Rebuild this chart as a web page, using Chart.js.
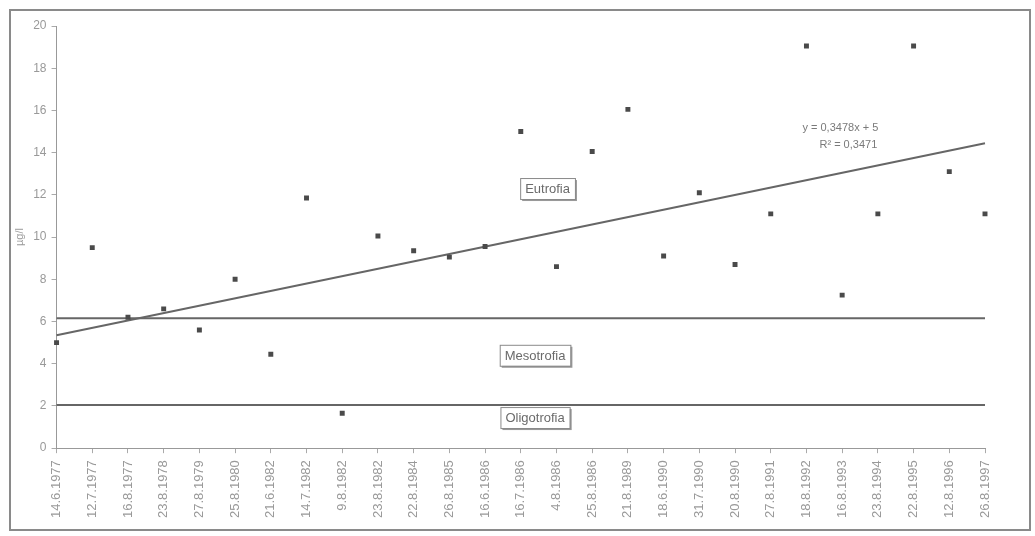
<!DOCTYPE html>
<html>
<head>
<meta charset="utf-8">
<script src="https://cdn.jsdelivr.net/npm/chart.js@4.4.1/dist/chart.umd.min.js"></script>
<style>
  html, body { margin: 0; padding: 0; background: #fff; }
  #wrap { position: relative; width: 1035px; height: 536px; }
  #frame {
    position: absolute; left: 9px; top: 9px; width: 1022px; height: 522px;
    border: 2px solid #8a8a8a; box-sizing: border-box; pointer-events: none;
  }
  canvas { position: absolute; left: 0; top: 0; }
</style>
</head>
<body>
<div id="wrap">
  <canvas id="chart" width="1035" height="536"></canvas>
  <div id="frame"></div>
</div>
<script>
// ── Data ──────────────────────────────────────────────────────────────────
const dates = [
  '14.6.1977', '12.7.1977', '16.8.1977', '23.8.1978', '27.8.1979', '25.8.1980',
  '21.6.1982', '14.7.1982', '9.8.1982', '23.8.1982', '22.8.1984', '26.8.1985',
  '16.6.1986', '16.7.1986', '4.8.1986', '25.8.1986', '21.8.1989', '18.6.1990',
  '31.7.1990', '20.8.1990', '27.8.1991', '18.8.1992', '16.8.1993', '23.8.1994',
  '22.8.1995', '12.8.1996', '26.8.1997'
];

const values = [
  5.0, 9.5, 6.2, 6.6, 5.6, 8.0,
  4.45, 11.85, 1.65, 10.05, 9.35, 9.05,
  9.55, 15.0, 8.6, 14.05, 16.05, 9.1,
  12.1, 8.7, 11.1, 19.05, 7.25, 11.1,
  19.05, 13.1, 11.1
];

// trend line endpoints (first and last date)
const trendEnds = [5.35, 14.45];

// class borders (µg/l)
const mesoLimit  = [6.15, 6.15];
const oligoLimit = [2.05, 2.05];

const yTicks = [0, 2, 4, 6, 8, 10, 12, 14, 16, 18, 20];

// ── helpers ───────────────────────────────────────────────────────────────
function endsOnly(pair) {
  return dates.map((d, i) => i === 0 ? pair[0] : (i === dates.length - 1 ? pair[1] : null));
}

const ink   = '#4a4a4a';
const line  = '#666666';
const muted = '#999999';
const font  = "'Liberation Sans', Arial, sans-serif";

// text boxes and equation, placed in data coordinates
const boxLabels = [
  { text: 'Eutrofia',    x: 13.75, y: 12.3 },
  { text: 'Mesotrofia',  x: 13.4,  y: 4.4  },
  { text: 'Oligotrofia', x: 13.4,  y: 1.45 }
];

const labelPlugin = {
  id: 'zoneLabels',
  afterDatasetsDraw(chart) {
    const { ctx, scales: { x, y } } = chart;
    ctx.save();
    ctx.font = '13px ' + font;
    ctx.textAlign = 'center';
    ctx.textBaseline = 'middle';
    boxLabels.forEach(b => {
      const px = x.getPixelForValue(b.x);
      const py = y.getPixelForValue(b.y);
      const w = ctx.measureText(b.text).width + 10;
      const h = 21;
      // shadow
      ctx.fillStyle = '#9a9a9a';
      ctx.fillRect(px - w / 2 + 2, py - h / 2 + 2, w, h);
      ctx.fillStyle = '#fff';
      ctx.fillRect(px - w / 2, py - h / 2, w, h);
      ctx.strokeStyle = '#8a8a8a';
      ctx.lineWidth = 1;
      ctx.strokeRect(px - w / 2 + 0.5, py - h / 2 + 0.5, w, h);
      ctx.fillStyle = '#6a6a6a';
      ctx.fillText(b.text, px, py + 1);
    });

    // regression equation
    ctx.font = '11px ' + font;
    ctx.fillStyle = '#7a7a7a';
    const ex = x.getPixelForValue(21.95);
    ctx.fillText('y = 0,3478x + 5', ex, y.getPixelForValue(15.15));
    ctx.fillText('R² = 0,3471', ex + 8, y.getPixelForValue(14.35));
    ctx.restore();
  }
};

Chart.defaults.font.family = font;
Chart.defaults.color = muted;

new Chart(document.getElementById('chart'), {
  type: 'line',
  data: {
    labels: dates,
    datasets: [
      {
        label: 'Chl a',
        data: values,
        showLine: false,
        pointStyle: 'rect',
        pointRadius: 3.5,
        backgroundColor: ink,
        borderColor: ink,
        borderWidth: 0
      },
      {
        label: 'trend',
        data: endsOnly(trendEnds),
        spanGaps: true,
        borderColor: line,
        borderWidth: 2,
        pointRadius: 0
      },
      {
        label: 'meso',
        data: endsOnly(mesoLimit),
        spanGaps: true,
        borderColor: line,
        borderWidth: 2,
        pointRadius: 0
      },
      {
        label: 'oligo',
        data: endsOnly(oligoLimit),
        spanGaps: true,
        borderColor: line,
        borderWidth: 2,
        pointRadius: 0
      }
    ]
  },
  options: {
    responsive: false,
    animation: false,
    layout: { padding: { left: 11, right: 50, top: 26, bottom: 11 } },
    plugins: {
      legend: { display: false },
      tooltip: { enabled: false }
    },
    scales: {
      x: {
        offset: false,
        grid: { display: true, drawOnChartArea: false, tickLength: 5, color: '#aaa' },
        border: { color: '#999', width: 1 },
        ticks: {
          autoSkip: false,
          minRotation: 90,
          maxRotation: 90,
          font: { size: 13 },
          color: muted,
          padding: 7
        }
      },
      y: {
        min: 0,
        max: 20,
        afterBuildTicks: axis => { axis.ticks = yTicks.map(v => ({ value: v })); },
        grid: { display: true, drawOnChartArea: false, tickLength: 5, color: '#aaa' },
        border: { color: '#999', width: 1 },
        ticks: { font: { size: 12 }, color: muted, padding: 5 },
        title: {
          display: true,
          text: 'µg/l',
          font: { size: 11 },
          color: muted,
          padding: 2
        }
      }
    }
  },
  plugins: [labelPlugin]
});
</script>
</body>
</html>
